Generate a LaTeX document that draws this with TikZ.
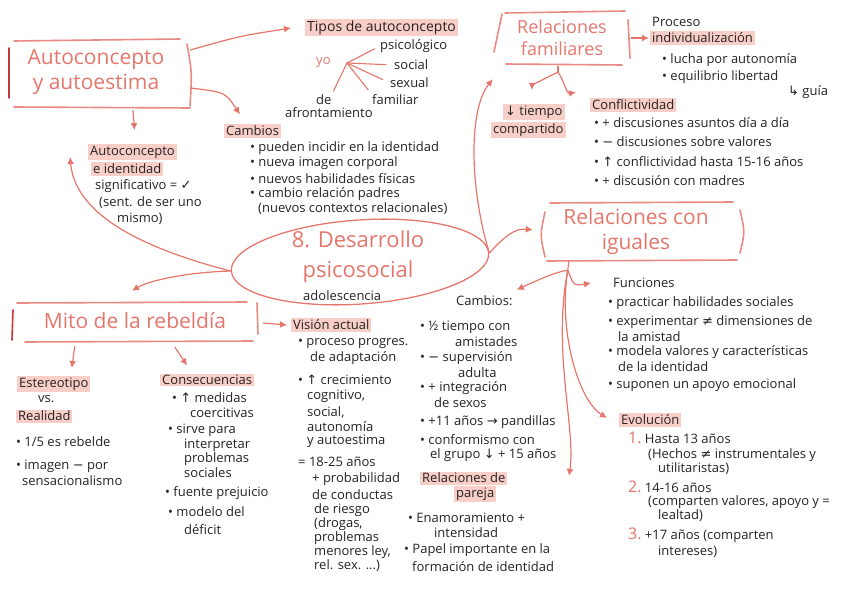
\documentclass[tikz,border=0pt]{standalone}
\usepackage{fontspec}
\setmainfont{Open Sans}
\newfontfamily\sym{DejaVu Sans}
\usetikzlibrary{arrows.meta,shapes.geometric,calc}
\definecolor{sal}{RGB}{229,118,108}
\definecolor{dred}{RGB}{196,58,58}
\definecolor{hlc}{RGB}{248,206,200}
\definecolor{ink}{RGB}{38,34,34}
\begin{document}
\begin{tikzpicture}[x=1pt,y=-1pt,
  txt/.style={anchor=west, inner sep=0pt, text=ink, font=\fontsize{13}{15}\selectfont},
  hl/.style={txt, fill=hlc, inner xsep=2pt, inner ysep=1.5pt},
  ttl/.style={text=sal, font=\fontsize{21}{25}\selectfont, align=center, inner sep=0pt},
  conn/.style={draw=sal, line width=1.2pt, -{Latex[length=7pt,width=7pt]}},
  ln/.style={draw=sal, line width=1.1pt, line cap=round},
  edge/.style={draw=sal!85, line width=1.6pt, line cap=round},
  bar/.style={draw=dred, line width=1.6pt, line cap=round}]
\useasboundingbox (0,0) rectangle (848,599);

% ---------- Autoconcepto y autoestima ----------
\node[ttl, minimum width=176, minimum height=68] (auto) at (96,72) {Autoconcepto\\y autoestima};
\draw[edge] (14,41) -- (180,39);
\draw[edge] (14,107) -- (190,108);
\draw[bar] (9,48) -- (9,98);
\draw[edge] (187,44) .. controls (192,72) .. (190,106);

% ---------- Tipos de autoconcepto ----------
\node[hl, font=\fontsize{14}{16}\selectfont] (tipos) at (305,28) {Tipos de autoconcepto};
\node[txt] (psico) at (380,46) {psicológico};
\node[txt] (social) at (394,65) {social};
\node[txt] (sexual) at (390,83) {sexual};
\node[txt] (famil) at (372,100) {familiar};
\node[txt, text=sal] (yo) at (316,63) {yo};
\node[txt] (de) at (316,100) {de};
\node[txt] (afront) at (285,113) {afrontamiento};
\coordinate (hub) at (347,63);
\draw[ln, shorten >=6pt] (hub) -- (psico.west);
\draw[ln, shorten >=8pt] (hub) -- (social.west);
\draw[ln, shorten >=8pt] (hub) -- (sexual.west);
\draw[ln, shorten >=6pt] (hub) -- (famil.north west);
\draw[ln, shorten >=4pt] (hub) -- (de.north east);

% ---------- Cambios (top) ----------
\node[hl] (cambios) at (224,131) {Cambios};
\node[txt] (c1) at (250,148) {• pueden incidir en la identidad};
\node[txt] (c2) at (250,163) {• nueva imagen corporal};
\node[txt] (c3) at (250,179) {• nuevos habilidades físicas};
\node[txt] (c4) at (250,194) {• cambio relación padres};
\node[txt] (c5) at (258,209) {(nuevos contextos relacionales)};

% ---------- Autoconcepto e identidad ----------
\node[hl] (autoid1) at (88,152) {Autoconcepto};
\node[hl] (autoid2) at (91,169) {e identidad};
\node[txt] (signif) at (95,186) {significativo = {\sym ✓}};
\node[txt] (sent) at (99,203) {(sent. de ser uno};
\node[txt] (mismo) at (117,219) {mismo)};

\draw[conn] ($(auto.east)+(6,-22)$) .. controls (240,36) .. ($(tipos.west)+(-14,0)$);
\draw[conn] ($(auto.east)+(6,16)$) .. controls (225,92) .. ($(cambios.north west)+(16,-10)$);
\draw[conn] ($(auto.south)+(37,4)$) -- ($(autoid1.north)+(2,-14)$);

% ---------- Main ellipse ----------
\node[ellipse, draw=sal, line width=1.3pt, minimum width=258, minimum height=84, rotate=4] (main) at (360,262) {};
\node[ttl, font=\fontsize{22}{30}\selectfont] (maint) at (358,257) {8. Desarrollo\\psicosocial};
\node[txt] (adol) at (303,296) {adolescencia};

\coordinate (autoidtip) at (70,157);
\draw[conn] (main.west) .. controls (130,245) and (75,210) .. (autoidtip);

% ---------- Relaciones familiares ----------
\node[ttl, font=\fontsize{18}{22}\selectfont, minimum width=126, minimum height=54] (relfam) at (562,38) {Relaciones\\familiares};
\draw[edge] (505,13) -- (625,11);
\draw[edge] (506,64) -- (622,65);
\draw[edge] (502,14) -- (494,52);
\draw[edge] (628,20) -- (630,58);

\node[txt] (proc1) at (652,22) {Proceso};
\node[hl] (proc2) at (650,38) {individualización};
\node[txt] (p1) at (662,60) {• lucha por autonomía};
\node[txt] (p2) at (662,77) {• equilibrio libertad};
\node[txt] (p3) at (788,92) {{\sym ↳} guía};
\draw[conn] ($(relfam.east)+(6,0)$) -- ($(proc2.west)+(-1,0)$);

\node[hl] (tiempo1) at (503,112) {{\sym ↓} tiempo};
\node[hl] (tiempo2) at (491,130) {compartido};

\node[hl] (confl) at (590,105) {Conflictividad};
\node[txt] (k1) at (594,123) {• + discusiones asuntos día a día};
\node[txt] (k2) at (594,142) {• {\sym −} discusiones sobre valores};
\node[txt] (k3) at (594,162) {• {\sym ↑} conflictividad hasta 15-16 años};
\node[txt] (k4) at (594,181) {• + discusión con madres};

\coordinate (famapex) at ($(relfam.south)+(-4,7)$);
\draw[ln] ($(relfam.south)+(-4,1)$) -- (famapex);
\draw[conn] (famapex) .. controls (545,78) and (532,86) .. ($(tiempo1.north)+(-2,-14)$);
\draw[conn] (famapex) .. controls (565,82) and (566,94) .. ($(confl.north west)+(-14,-6)$);

% ---------- Relaciones con iguales ----------
\node[ttl, minimum width=190, minimum height=58] (relig) at (636,232) {Relaciones con\\iguales};
\draw[edge] (550,203) -- (733,202);
\draw[edge] (547,261) -- (737,260);
\draw[edge] (545,212) .. controls (540,235) .. (545,257);
\draw[edge] (740,210) .. controls (745,232) .. (740,253);

\draw[conn] (main.east) .. controls (470,190) and (468,110) .. ($(relfam.south west)+(-6,14)$);
\draw[conn] (main.east) .. controls (505,236) and (515,228) .. ($(relig.west)+(-8,-2)$);

\node[txt] (func) at (613,283) {Funciones};
\node[txt] (f1) at (608,303) {• practicar habilidades sociales};
\node[txt] (f2) at (608,322) {• experimentar {\sym ≠} dimensiones de};
\node[txt] (f2b) at (618,337) {la amistad};
\node[txt] (f3) at (608,352) {• modela valores y características};
\node[txt] (f3b) at (618,367) {de la identidad};
\node[txt] (f4) at (608,385) {• suponen un apoyo emocional};

\node[hl] (evol) at (619,420) {Evolución};
\node[txt] (e1) at (628,438) {\textcolor{sal}{\fontsize{16}{16}\selectfont 1.}\ Hasta 13 años};
\node[txt] (e1b) at (648,455) {(Hechos {\sym ≠} instrumentales y};
\node[txt] (e1c) at (658,469) {utilitaristas)};
\node[txt] (e2) at (628,487) {\textcolor{sal}{\fontsize{16}{16}\selectfont 2.}\ 14-16 años};
\node[txt] (e2b) at (648,502) {(comparten valores, apoyo y =};
\node[txt] (e2c) at (658,516) {lealtad)};
\node[txt] (e3) at (628,535) {\textcolor{sal}{\fontsize{16}{16}\selectfont 3.}\ +17 años (comparten};
\node[txt] (e3b) at (658,552) {intereses)};

% ---------- Cambios (right column) ----------
\node[txt] (camb2) at (456,301) {Cambios:};
\node[txt] (r1) at (420,327) {• ½ tiempo con};
\node[txt] (r1b) at (455,342) {amistades};
\node[txt] (r2) at (420,358) {• {\sym −} supervisión};
\node[txt] (r2b) at (458,373) {adulta};
\node[txt] (r3) at (420,388) {• + integración};
\node[txt] (r3b) at (434,403) {de sexos};
\node[txt] (r4) at (420,422) {• +11 años {\sym →} pandillas};
\node[txt] (r5) at (420,440) {• conformismo con};
\node[txt] (r5b) at (430,455) {el grupo {\sym ↓} + 15 años};

\node[hl] (pareja1) at (420,478) {Relaciones de};
\node[hl] (pareja2) at (454,494) {pareja};
\node[txt] (q1) at (408,518) {• Enamoramiento +};
\node[txt] (q1b) at (434,533) {intensidad};
\node[txt] (q2) at (404,550) {• Papel importante en la};
\node[txt] (q2b) at (412,567) {formación de identidad};

\coordinate (igapex) at ($(relig.south west)+(27,9)$);
\draw[ln] ($(relig.south west)+(28,0)$) -- (igapex);
\draw[conn] (igapex) .. controls (555,272) and (538,280) .. ($(camb2.north east)+(4,-6)$);
\draw[conn] (igapex) .. controls (574,286) .. ($(func.west)+(-22,0)$);
\draw[conn] (igapex) .. controls (558,330) and (578,400) .. ($(evol.west)+(-12,-2)$);
\coordinate (paretip) at (569,476);
\draw[conn] (igapex) .. controls (552,350) and (576,430) .. (paretip);

% ---------- Mito de la rebeldía ----------
\node[ttl, minimum width=240, minimum height=40] (mito) at (135,321) {Mito de la rebeldía};
\draw[edge] (17,303) -- (247,302);
\draw[edge] (25,342) -- (253,341);
\draw[bar] (13,310) -- (12,340);
\draw[edge] (257,303) -- (258,334);
\draw[conn] (main.west) .. controls (190,272) and (150,280) .. ($(mito.north)+(-3,-10)$);

\node[hl] (vision) at (291,325) {Visión actual};
\node[txt] (v1) at (298,344) {• proceso progres.};
\node[txt] (v1b) at (310,358) {de adaptación};
\node[txt] (v2) at (298,380) {• {\sym ↑} crecimiento};
\node[txt] (v2b) at (307,396) {cognitivo,};
\node[txt] (v2c) at (307,412) {social,};
\node[txt] (v2d) at (307,427) {autonomía};
\node[txt] (v2e) at (307,441) {y autoestima};
\node[txt] (v3) at (298,462) {= 18-25 años};
\node[txt] (v3b) at (312,479) {+ probabilidad};
\node[txt] (v3c) at (312,495) {de conductas};
\node[txt] (v3d) at (314,510) {de riesgo};
\node[txt] (v3e) at (314,524) {(drogas,};
\node[txt] (v3f) at (314,538) {problemas};
\node[txt] (v3g) at (314,552) {menores ley,};
\node[txt] (v3h) at (314,566) {rel. sex. ...)};

\node[hl] (estereo) at (17,384) {Estereotipo};
\node[txt] (vs) at (38,399) {vs.};
\node[hl] (realidad) at (16,416) {Realidad};
\node[txt] (s1) at (16,442) {• 1/5 es rebelde};
\node[txt] (s2) at (16,466) {• imagen {\sym −} por};
\node[txt] (s2b) at (22,481) {sensacionalismo};

\node[hl] (consec) at (160,380) {Consecuencias};
\node[txt] (n1) at (172,398) {• {\sym ↑} medidas};
\node[txt] (n1b) at (190,413) {coercitivas};
\node[txt] (n2) at (168,430) {• sirve para};
\node[txt] (n2b) at (184,445) {interpretar};
\node[txt] (n2c) at (184,459) {problemas};
\node[txt] (n2d) at (184,473) {sociales};
\node[txt] (n3) at (165,493) {• fuente prejuicio};
\node[txt] (n4) at (168,512) {• modelo del};
\node[txt] (n4b) at (184,530) {déficit};

\draw[conn] ($(mito.east)+(8,2)$) -- ($(vision.west)+(-4,0)$);
\draw[conn] ($(mito.south west)+(60,5)$) -- ($(estereo.north)+(18,-8)$);
\draw[conn] ($(mito.south west)+(160,6)$) -- ($(consec.north)+(-20,-8)$);
\end{tikzpicture}
\end{document}
